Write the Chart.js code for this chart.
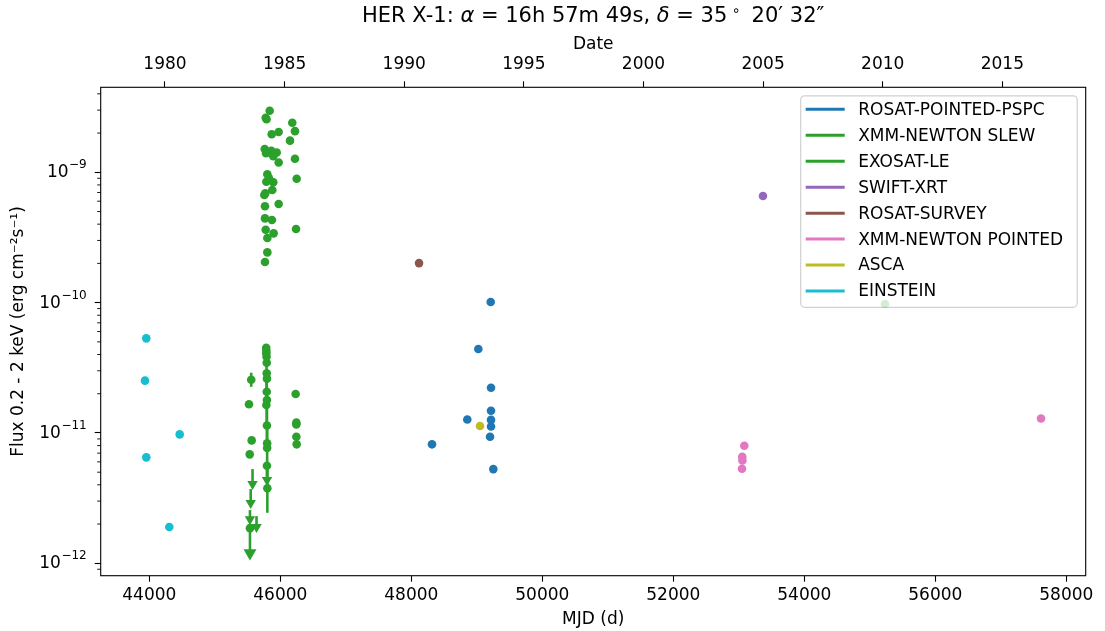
<!DOCTYPE html>
<html lang="en">
<head>
    <meta charset="UTF-8">
    <title>HER X-1 light curve</title>
    <style>
        body {
            margin: 0;
            padding: 0;
            background: #fff;
        }
        canvas {
            display: block;
        }
    </style>
</head>
<body>
    <canvas id="plot" width="1105" height="631"></canvas>
    <script src="https://cdn.jsdelivr.net/npm/chart.js"></script>
    <script>
        // ---- data: MJD and flux (erg cm^-2 s^-1) per instrument ----
        const rosatPointedMjd  = [49212, 49023, 49217, 49217, 48855, 49217, 49217, 49202, 48316, 49252];
        const rosatPointedFlux = [1.01e-10, 4.41e-11, 2.22e-11, 1.48e-11, 1.27e-11, 1.26e-11, 1.12e-11, 9.35e-12, 8.18e-12, 5.28e-12];

        const xmmSlewMjd  = [55232];
        const xmmSlewFlux = [9.75e-11];

        const exosatMjd = [
            45838, 45777, 45790, 46183, 46224, 45975, 45869, 46148, 45762, 45863,
            45945, 45782, 45893, 45975, 46224, 45802, 46250, 45893, 45787, 45827,
            45878, 45771, 45756, 45975, 45766, 45872, 45766, 46240, 45777, 45898,
            45802, 45802, 45766,
            45785, 45787, 45787, 45790, 45793, 45793, 45796, 45793, 45796, 45787,
            45796, 45799, 45799, 45796, 45802,
            46234, 46245, 46245, 46245, 46250,
            45556, 45522, 45563, 45533, 45537
        ];
        const exosatFlux = [
            2.97e-9, 2.62e-9, 2.55e-9, 2.40e-9, 2.07e-9, 2.04e-9, 1.96e-9, 1.75e-9, 1.51e-9, 1.46e-9,
            1.42e-9, 1.40e-9, 1.33e-9, 1.19e-9, 1.27e-9, 9.66e-10, 8.93e-10, 8.38e-10, 8.47e-10, 8.99e-10,
            7.31e-10, 6.90e-10, 6.70e-10, 5.71e-10, 5.49e-10, 4.31e-10, 4.43e-10, 3.67e-10, 3.62e-10, 3.40e-10,
            3.13e-10, 2.43e-10, 2.05e-10,
            4.51e-11, 4.27e-11, 4.08e-11, 3.85e-11, 3.46e-11, 2.87e-11, 2.61e-11, 2.07e-11, 1.79e-11, 1.64e-11,
            1.14e-11, 8.32e-12, 7.66e-12, 5.60e-12, 3.76e-12,
            1.99e-11, 1.20e-11, 1.16e-11, 9.35e-12, 8.18e-12,
            2.56e-11, 1.66e-11, 8.77e-12, 6.85e-12, 1.86e-12
        ];
        // error bars (lower / upper flux)
        const exosatErrMjd = [45556, 45522, 45785, 45790, 45793, 45796, 45799, 45802];
        const exosatErrLo  = [2.26e-11, 1.58e-11, 4.20e-11, 2.07e-11, 1.14e-11, 7.66e-12, 4.50e-12, 2.44e-12];
        const exosatErrHi  = [2.90e-11, 1.75e-11, 4.72e-11, 4.60e-11, 2.90e-11, 1.79e-11, 1.14e-11, 5.60e-12];
        // upper limits: limit value and arrow tip
        const exosatUlMjd = [45576, 45548, 45537, 45637, 45537, 45797];
        const exosatUlTop = [5.28e-12, 3.71e-12, 2.56e-12, 2.30e-12, 1.80e-12, 5.57e-12];
        const exosatUlTip = [4.05e-12, 2.90e-12, 2.18e-12, 1.90e-12, 1.20e-12, 4.36e-12];

        const swiftMjd  = [53369];
        const swiftFlux = [6.58e-10];

        const rosatSurveyMjd  = [48118];
        const rosatSurveyFlux = [2.01e-10];

        const xmmPointedMjd  = [53084, 53053, 53055, 53049, 57614];
        const xmmPointedFlux = [7.98e-12, 6.56e-12, 6.16e-12, 5.31e-12, 1.29e-11];

        const ascaMjd  = [49049];
        const ascaFlux = [1.13e-11];

        const einsteinMjd  = [43954, 43934, 44464, 43954, 44305];
        const einsteinFlux = [5.32e-11, 2.52e-11, 9.75e-12, 6.5e-12, 1.90e-12];

        // ---- axes ----
        const mjdMin = 43258, mjdMax = 58296;
        const fluxMin = 8.03e-13, fluxMax = 4.49e-9;
        const mjdTicks = [44000, 46000, 48000, 50000, 52000, 54000, 56000, 58000];
        const yearTicks = [1980, 1985, 1990, 1995, 2000, 2005, 2010, 2015];
        const fluxDecades = [-12, -11, -10, -9];

        const FONT = 'DejaVu Sans';
        const tab = {
            blue: '#1f77b4', green: '#2ca02c', purple: '#9467bd', brown: '#8c564b',
            pink: '#e377c2', olive: '#bcbd22', cyan: '#17becf'
        };

        function mjdToYear(m) {
            return 2000 + (m - 51544.5) / 365.25;
        }

        function pts(xs, ys) {
            return xs.map((x, i) => ({ x: x, y: ys[i] }));
        }

        function series(label, color, xs, ys, fill) {
            return {
                label: label,
                legendColor: color,
                data: pts(xs, ys),
                backgroundColor: fill || color,
                borderWidth: 0,
                pointRadius: 4.3,
                pointHoverRadius: 4.3
            };
        }

        // error bars and upper-limit shafts for EXOSAT
        const errorBars = {
            id: 'errorBars',
            beforeDatasetsDraw(chart) {
                const { ctx, scales: { x, y } } = chart;
                ctx.save();
                ctx.strokeStyle = tab.green;
                ctx.lineWidth = 2.6;
                exosatErrMjd.forEach((m, i) => {
                    const px = x.getPixelForValue(m);
                    ctx.beginPath();
                    ctx.moveTo(px, y.getPixelForValue(exosatErrLo[i]));
                    ctx.lineTo(px, y.getPixelForValue(exosatErrHi[i]));
                    ctx.stroke();
                });
                exosatUlMjd.forEach((m, i) => {
                    const px = x.getPixelForValue(m);
                    ctx.beginPath();
                    ctx.moveTo(px, y.getPixelForValue(exosatUlTop[i]));
                    ctx.lineTo(px, y.getPixelForValue(exosatUlTip[i]));
                    ctx.stroke();
                });
                ctx.restore();
            }
        };

        // legend box sits under the markers so the faint slew point shows through
        const legendBox = {
            id: 'legendBox',
            beforeDatasetsDraw(chart) {
                const { ctx, chartArea: a } = chart;
                const items = chart.data.datasets.filter(d => d.legendColor);
                const bx = a.right - 285, by = a.top + 8.5;
                const bw = 276.5, bh = 211.5;
                ctx.save();
                ctx.fillStyle = 'rgba(255,255,255,0.8)';
                ctx.strokeStyle = 'rgba(204,204,204,0.9)';
                ctx.lineWidth = 1.2;
                ctx.beginPath();
                ctx.roundRect(bx, by, bw, bh, 4);
                ctx.fill();
                ctx.stroke();
                ctx.font = '17px "' + FONT + '"';
                ctx.textBaseline = 'middle';
                ctx.textAlign = 'left';
                items.forEach((d, i) => {
                    const ly = by + 13.5 + i * 25.96;
                    ctx.strokeStyle = d.legendColor;
                    ctx.lineWidth = 3;
                    ctx.beginPath();
                    ctx.moveTo(bx + 5, ly);
                    ctx.lineTo(bx + 44, ly);
                    ctx.stroke();
                    ctx.fillStyle = '#000';
                    ctx.fillText(d.label, bx + 57.5, ly + 1);
                });
                ctx.restore();
            }
        };

        // frame, minor log ticks, power-of-ten labels and title
        const decorations = {
            id: 'decorations',
            afterDraw(chart) {
                const { ctx, chartArea: a, scales: { y } } = chart;
                ctx.save();

                // frame
                ctx.strokeStyle = '#000';
                ctx.lineWidth = 1.1;
                ctx.strokeRect(a.left, a.top, a.right - a.left, a.bottom - a.top);

                // minor ticks on the log axis
                ctx.lineWidth = 0.9;
                for (let e = -13; e <= -9; e++) {
                    for (let k = 2; k <= 9; k++) {
                        const v = k * Math.pow(10, e);
                        if (v < fluxMin || v > fluxMax) continue;
                        const py = y.getPixelForValue(v);
                        ctx.beginPath();
                        ctx.moveTo(a.left, py);
                        ctx.lineTo(a.left - 3.5, py);
                        ctx.stroke();
                    }
                }

                // 10^n labels
                ctx.fillStyle = '#000';
                ctx.textBaseline = 'middle';
                fluxDecades.forEach(e => {
                    const py = y.getPixelForValue(Math.pow(10, e));
                    const exp = '\u2212' + Math.abs(e);
                    ctx.font = '12px "' + FONT + '"';
                    const we = ctx.measureText(exp).width;
                    const xEnd = a.left - 14;
                    ctx.textAlign = 'left';
                    ctx.fillText(exp, xEnd - we, py - 7);
                    ctx.font = '17px "' + FONT + '"';
                    ctx.textAlign = 'right';
                    ctx.fillText('10', xEnd - we - 0.5, py + 0.5);
                });

                // title with italic symbols
                const parts = [
                    { t: 'HER X-1: ', f: '21px "' + FONT + '"', dy: 0 },
                    { t: '\u03b1', f: 'italic 21px "' + FONT + '"', dy: 0 },
                    { t: ' = 16h 57m 49s, ', f: '21px "' + FONT + '"', dy: 0 },
                    { t: '\u03b4', f: 'italic 21px "' + FONT + '"', dy: 0 },
                    { t: ' = 35', f: '21px "' + FONT + '"', dy: 0 },
                    { t: ' \u2218 ', f: '14px "' + FONT + '"', dy: -6 },
                    { t: ' 20\u2032 32\u2033', f: '21px "' + FONT + '"', dy: 0 }
                ];
                let total = 0;
                parts.forEach(p => {
                    ctx.font = p.f;
                    p.w = ctx.measureText(p.t).width;
                    total += p.w;
                });
                let tx = (a.left + a.right) / 2 - total / 2;
                ctx.textAlign = 'left';
                parts.forEach(p => {
                    ctx.font = p.f;
                    ctx.fillText(p.t, tx, 17 + p.dy);
                    tx += p.w;
                });

                ctx.restore();
            }
        };

        const tickFont = { family: FONT, size: 17 };
        const gridOpts = { drawOnChartArea: false, tickLength: 6, tickWidth: 1.1, tickColor: '#000' };

        new Chart(document.getElementById('plot'), {
            type: 'scatter',
            data: {
                datasets: [
                    series('ROSAT-POINTED-PSPC', tab.blue, rosatPointedMjd, rosatPointedFlux),
                    series('XMM-NEWTON SLEW', tab.green, xmmSlewMjd, xmmSlewFlux, 'rgba(44,160,44,0.2)'),
                    series('EXOSAT-LE', tab.green, exosatMjd, exosatFlux),
                    series('SWIFT-XRT', tab.purple, swiftMjd, swiftFlux),
                    series('ROSAT-SURVEY', tab.brown, rosatSurveyMjd, rosatSurveyFlux),
                    series('XMM-NEWTON POINTED', tab.pink, xmmPointedMjd, xmmPointedFlux),
                    series('ASCA', tab.olive, ascaMjd, ascaFlux),
                    series('EINSTEIN', tab.cyan, einsteinMjd, einsteinFlux),
                    {
                        label: 'EXOSAT-LE upper limits',
                        data: pts(exosatUlMjd, exosatUlTip),
                        backgroundColor: tab.green,
                        borderColor: tab.green,
                        borderWidth: 0,
                        pointStyle: 'triangle',
                        rotation: 180,
                        pointRadius: [6, 6, 6, 6, 7.5, 6],
                        pointHoverRadius: 6
                    }
                ]
            },
            options: {
                responsive: false,
                devicePixelRatio: 1,
                animation: false,
                layout: { padding: { top: 0, right: 19.3, bottom: 0, left: 0 } },
                plugins: {
                    legend: { display: false },
                    tooltip: { enabled: false },
                    title: { display: false }
                },
                scales: {
                    x: {
                        type: 'linear',
                        position: 'bottom',
                        min: mjdMin,
                        max: mjdMax,
                        afterFit: s => { s.height = 55.3; },
                        afterBuildTicks: s => { s.ticks = mjdTicks.map(v => ({ value: v })); },
                        ticks: {
                            color: '#000', font: tickFont, padding: 4,
                            maxRotation: 0, autoSkip: false,
                            callback: v => String(v)
                        },
                        grid: gridOpts,
                        border: { display: false },
                        title: {
                            display: true, text: 'MJD (d)', color: '#000',
                            font: tickFont, padding: { top: 0, bottom: 1 }
                        }
                    },
                    x2: {
                        type: 'linear',
                        position: 'top',
                        min: mjdToYear(mjdMin),
                        max: mjdToYear(mjdMax),
                        afterFit: s => { s.height = 87.3; },
                        afterBuildTicks: s => { s.ticks = yearTicks.map(v => ({ value: v })); },
                        ticks: {
                            color: '#000', font: tickFont, padding: 7,
                            maxRotation: 0, autoSkip: false,
                            callback: v => String(v)
                        },
                        grid: gridOpts,
                        border: { display: false },
                        title: {
                            display: true, text: 'Date', color: '#000',
                            font: tickFont, padding: { top: 34, bottom: 0 }
                        }
                    },
                    y: {
                        type: 'logarithmic',
                        position: 'left',
                        min: fluxMin,
                        max: fluxMax,
                        afterFit: s => { s.width = 100.7; },
                        afterBuildTicks: s => { s.ticks = fluxDecades.map(e => ({ value: Math.pow(10, e) })); },
                        ticks: { display: false },
                        grid: gridOpts,
                        border: { display: false },
                        title: {
                            display: true, text: 'Flux 0.2 - 2 keV (erg cm\u207b\u00b2s\u207b\u00b9)', color: '#000',
                            font: tickFont, padding: { top: 8, bottom: 0 }
                        }
                    }
                }
            },
            plugins: [errorBars, legendBox, decorations]
        });
    </script>
</body>
</html>
